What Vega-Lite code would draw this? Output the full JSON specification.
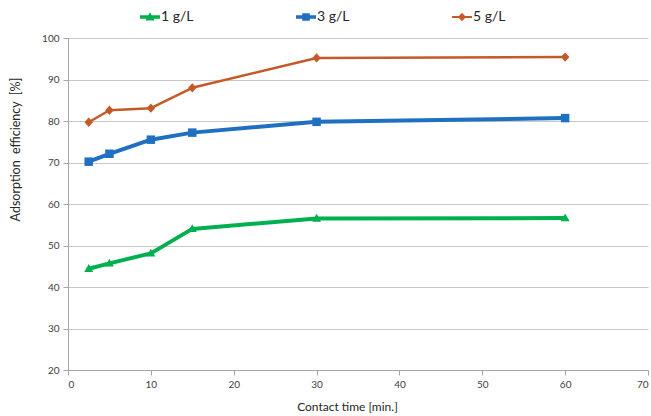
{
  "$schema": "https://vega.github.io/schema/vega-lite/v6.json",
  "width": 580,
  "height": 332,
  "autosize": "none",
  "padding": {"left": 68, "top": 38, "right": 3, "bottom": 46},
  "background": "white",
  "config": {
    "view": {"stroke": null},
    "font": "Lato",
    "axis": {
      "labelFont": "Lato",
      "titleFont": "Lato",
      "labelColor": "#404040",
      "titleColor": "#262626",
      "titleFontWeight": "normal",
      "labelFontSize": 10,
      "titleFontSize": 12,
      "domainColor": "#a6a6a6",
      "tickColor": "#a6a6a6",
      "gridColor": "#c8c8c8",
      "tickSize": 5
    },
    "legend": {
      "title": null,
      "orient": "none",
      "direction": "horizontal",
      "legendX": 72,
      "legendY": -31,
      "symbolSize": 400,
      "symbolStrokeWidth": 0,
      "symbolOpacity": 1,
      "labelFont": "Lato",
      "labelFontSize": 14,
      "labelColor": "#262626",
      "labelOffset": 1,
      "columnPadding": 102
    }
  },
  "data": {
    "values": [
      {"time": 2.5, "eff": 44.4, "series": "1 g/L"},
      {"time": 5, "eff": 45.7, "series": "1 g/L"},
      {"time": 10, "eff": 48.1, "series": "1 g/L"},
      {"time": 15, "eff": 54.0, "series": "1 g/L"},
      {"time": 30, "eff": 56.5, "series": "1 g/L"},
      {"time": 60, "eff": 56.6, "series": "1 g/L"},
      {"time": 2.5, "eff": 70.2, "series": "3 g/L"},
      {"time": 5, "eff": 72.1, "series": "3 g/L"},
      {"time": 10, "eff": 75.5, "series": "3 g/L"},
      {"time": 15, "eff": 77.2, "series": "3 g/L"},
      {"time": 30, "eff": 79.8, "series": "3 g/L"},
      {"time": 60, "eff": 80.7, "series": "3 g/L"},
      {"time": 2.5, "eff": 79.7, "series": "5 g/L"},
      {"time": 5, "eff": 82.6, "series": "5 g/L"},
      {"time": 10, "eff": 83.1, "series": "5 g/L"},
      {"time": 15, "eff": 88.0, "series": "5 g/L"},
      {"time": 30, "eff": 95.2, "series": "5 g/L"},
      {"time": 60, "eff": 95.4, "series": "5 g/L"}
    ]
  },
  "encoding": {
    "x": {
      "field": "time",
      "type": "quantitative",
      "scale": {"domain": [0, 70], "nice": false},
      "axis": {
        "title": "Contact time [min.]",
        "values": [0, 10, 20, 30, 40, 50, 60, 70],
        "grid": false,
        "labelPadding": 4,
        "titleX": 279,
        "titleY": 36,
        "titleBaseline": "middle",
        "titleAlign": "center"
      }
    },
    "y": {
      "field": "eff",
      "type": "quantitative",
      "scale": {"domain": [20, 100], "nice": false, "zero": false},
      "axis": {
        "title": "Adsorption\u00a0\u00a0efficiency\u00a0\u00a0[%]",
        "values": [20, 30, 40, 50, 60, 70, 80, 90, 100],
        "grid": true,
        "labelPadding": 4,
        "titleFontSize": 12.5,
        "titleAngle": -90,
        "titleX": -53,
        "titleY": 111,
        "titleBaseline": "middle",
        "titleAlign": "center"
      }
    }
  },
  "layer": [
    {
      "mark": {"type": "line", "strokeJoin": "round"},
      "encoding": {
        "detail": {"field": "series", "type": "nominal"},
        "stroke": {
          "condition": [
            {"test": "datum.series === '1 g/L'", "value": "#00b050"},
            {"test": "datum.series === '3 g/L'", "value": "#1f70c1"}
          ],
          "value": "#c55a28"
        },
        "strokeWidth": {
          "condition": {"test": "datum.series === '5 g/L'", "value": 2.5},
          "value": 4
        }
      }
    },
    {
      "mark": {"type": "point", "filled": true, "opacity": 1},
      "encoding": {
        "fill": {
          "condition": [
            {"test": "datum.series === '1 g/L'", "value": "#00b050"},
            {"test": "datum.series === '3 g/L'", "value": "#1f70c1"}
          ],
          "value": "#c55a28"
        },
        "shape": {
          "condition": [
            {"test": "datum.series === '1 g/L'", "value": "M0,-1.1 L1.05,0.75 L-1.05,0.75 Z"},
            {"test": "datum.series === '3 g/L'", "value": "M-1,-1 H1 V1 H-1 Z"}
          ],
          "value": "M0,-1.1 L1,0 L0,1.1 L-1,0 Z"
        },
        "size": {"value": 72}
      }
    },
    {
      "description": "Transparent copy of the markers that carries the series key (line plus marker symbols).",
      "mark": {"type": "point", "filled": true, "opacity": 0},
      "encoding": {
        "color": {
          "field": "series",
          "type": "nominal",
          "scale": {
            "domain": ["1 g/L", "3 g/L", "5 g/L"],
            "range": ["#00b050", "#1f70c1", "#c55a28"]
          }
        },
        "shape": {
          "field": "series",
          "type": "nominal",
          "scale": {
            "domain": ["1 g/L", "3 g/L", "5 g/L"],
            "range": [
              "M-1,-0.18 H1 V0.18 H-1 Z M0,-0.48 L0.46,0.34 L-0.46,0.34 Z",
              "M-1,-0.18 H1 V0.18 H-1 Z M-0.38,-0.38 H0.38 V0.38 H-0.38 Z",
              "M-1,-0.11 H1 V0.11 H-1 Z M0,-0.42 L0.4,0 L0,0.42 L-0.4,0 Z"
            ]
          }
        },
        "size": {"value": 72}
      }
    }
  ]
}
